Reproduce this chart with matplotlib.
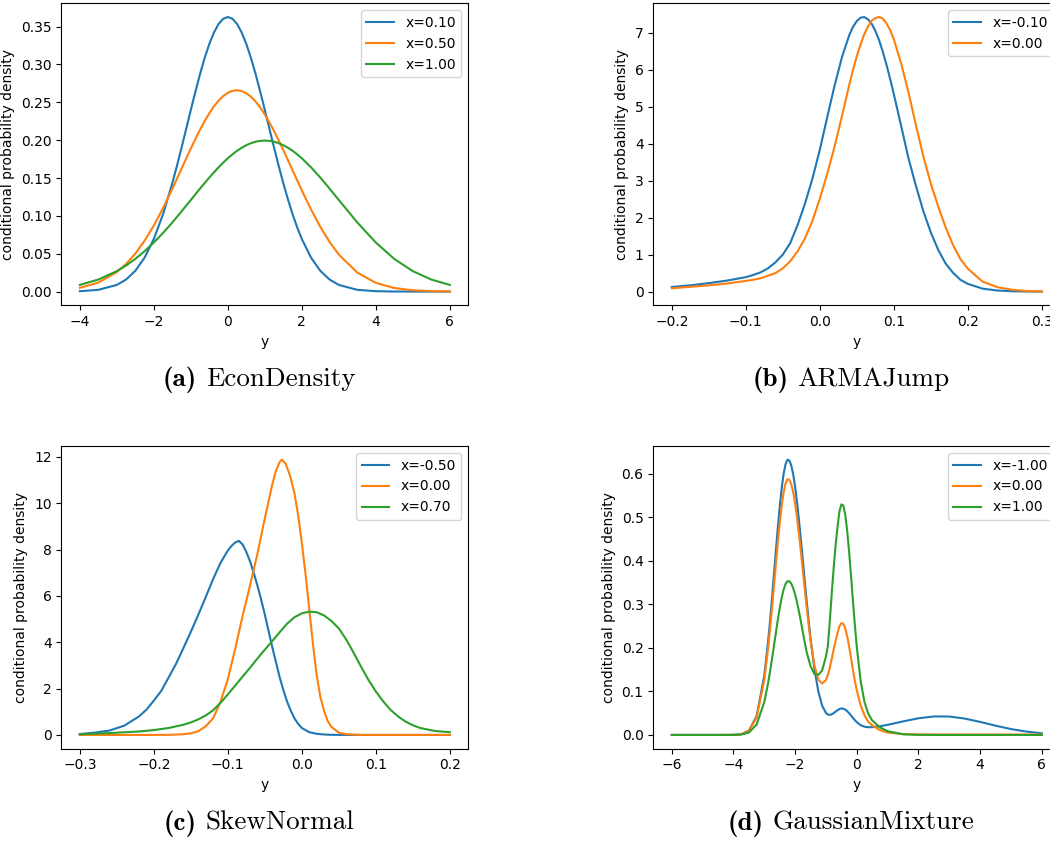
import matplotlib
matplotlib.use('Agg')
import matplotlib.pyplot as plt

# (a) EconDensity
econ_y = [-4, -3.5, -3, -2.75, -2.5, -2.25, -2, -1.75, -1.5, -1.375, -1.25, -1.125, -1, -0.875,
          -0.75, -0.625, -0.5, -0.375, -0.25, -0.125, 0, 0.125, 0.25, 0.375, 0.5, 0.625, 0.75,
          0.875, 1, 1.125, 1.25, 1.375, 1.5, 1.625, 1.75, 1.875, 2, 2.25, 2.5, 2.75, 3, 3.5, 4,
          4.5, 5, 5.5, 6]
econ_x010 = [0.0005, 0.0023, 0.0088, 0.0159, 0.0274, 0.0448, 0.0695, 0.1023, 0.1431, 0.1661,
             0.1902, 0.215, 0.2399, 0.2643, 0.2875, 0.3087, 0.3271, 0.3422, 0.3535, 0.3604,
             0.3627, 0.3604, 0.3535, 0.3422, 0.3271, 0.3087, 0.2875, 0.2643, 0.2399, 0.215,
             0.1902, 0.1661, 0.1431, 0.1218, 0.1023, 0.0848, 0.0695, 0.0448, 0.0274, 0.0159,
             0.0088, 0.0023, 0.0005, 0.0001, 0.0, 0.0, 0.0]
econ_x050 = [0.0049, 0.0119, 0.0258, 0.0365, 0.0502, 0.0671, 0.0872, 0.1103, 0.1357, 0.149,
             0.1624, 0.1758, 0.1890, 0.2018, 0.2139, 0.2253, 0.2355, 0.2446, 0.2522, 0.2582,
             0.2626, 0.2652, 0.266, 0.2649, 0.2620, 0.2574, 0.2511, 0.2432, 0.2339, 0.2235,
             0.2121, 0.1998, 0.1869, 0.1737, 0.1603, 0.1469, 0.1336, 0.1084, 0.0855, 0.0656,
             0.0489, 0.0251, 0.0115, 0.0047, 0.0017, 0.0006, 0.0002]
econ_x100 = [0.0088, 0.0159, 0.0270, 0.0344, 0.0431, 0.0533, 0.0648, 0.0775, 0.0913, 0.0986,
             0.1060, 0.1135, 0.1210, 0.1286, 0.1360, 0.1434, 0.1506, 0.1575, 0.1641, 0.1703,
             0.1761, 0.1813, 0.1860, 0.19, 0.1934, 0.196, 0.1980, 0.1991, 0.1995, 0.1991,
             0.1980, 0.196, 0.1934, 0.19, 0.1860, 0.1813, 0.1761, 0.1641, 0.1506, 0.136,
             0.1210, 0.0913, 0.0648, 0.0431, 0.0270, 0.0159, 0.0088]

# (b) ARMAJump
arma_y = [-0.2, -0.175, -0.15, -0.125, -0.1, -0.09, -0.08, -0.07, -0.06, -0.05, -0.04, -0.03,
          -0.02, -0.01, 0.0, 0.01, 0.02, 0.03, 0.04, 0.045, 0.05, 0.055, 0.06, 0.065, 0.07,
          0.075, 0.08, 0.085, 0.09, 0.095, 0.1, 0.11, 0.12, 0.13, 0.14, 0.15, 0.16, 0.17, 0.18,
          0.19, 0.2, 0.22, 0.24, 0.26, 0.28, 0.3]
arma_xm010 = [0.126, 0.17, 0.23, 0.30, 0.39, 0.45, 0.52, 0.63, 0.79, 1.0, 1.31, 1.80, 2.38, 3.05,
              3.83, 4.71, 5.57, 6.34, 6.94, 7.16, 7.31, 7.40, 7.42, 7.36, 7.24, 7.05, 6.80, 6.49,
              6.14, 5.75, 5.34, 4.47, 3.59, 2.85, 2.17, 1.60, 1.13, 0.76, 0.51, 0.32, 0.21, 0.08,
              0.03, 0.01, 0.003, 0.001]
arma_x000 = [0.09, 0.13, 0.17, 0.22, 0.29, 0.32, 0.36, 0.43, 0.50, 0.63, 0.82, 1.09, 1.44, 1.91,
             2.51, 3.18, 3.92, 4.75, 5.6, 6.0, 6.36, 6.67, 6.95, 7.16, 7.32, 7.39, 7.42, 7.38,
             7.25, 7.07, 6.82, 6.16, 5.37, 4.49, 3.65, 2.92, 2.3, 1.74, 1.26, 0.88, 0.62, 0.27,
             0.12, 0.05, 0.015, 0.005]

# (c) SkewNormal
skew_y_m050 = [-0.3, -0.28, -0.26, -0.24, -0.22, -0.21, -0.2, -0.19, -0.18, -0.17, -0.16, -0.15,
               -0.14, -0.13, -0.12, -0.11, -0.1, -0.095, -0.09, -0.085, -0.08, -0.075, -0.07,
               -0.065, -0.06, -0.055, -0.05, -0.045, -0.04, -0.035, -0.03, -0.025, -0.02, -0.015,
               -0.01, -0.005, 0.0, 0.01, 0.02, 0.03, 0.04, 0.06, 0.1, 0.2]
skew_xm050 = [0.04, 0.1, 0.19, 0.4, 0.8, 1.09, 1.48, 1.9, 2.48, 3.07, 3.75, 4.45, 5.18, 5.94, 6.72,
              7.42, 7.96, 8.16, 8.31, 8.38, 8.22, 7.9, 7.5, 7.0, 6.45, 5.85, 5.2, 4.5, 3.8, 3.15,
              2.5, 1.95, 1.45, 1.05, 0.72, 0.48, 0.3, 0.12, 0.05, 0.02, 0.005, 0.0, 0.0, 0.0]
skew_y_000 = [-0.3, -0.2, -0.18, -0.16, -0.15, -0.14, -0.13, -0.12, -0.11, -0.1, -0.09, -0.08,
              -0.07, -0.06, -0.05, -0.04, -0.035, -0.03, -0.027, -0.022, -0.016, -0.01, -0.005,
              0.0, 0.005, 0.01, 0.015, 0.02, 0.025, 0.03, 0.035, 0.04, 0.05, 0.06, 0.08, 0.2]
skew_x000 = [0.0, 0.0, 0.005, 0.03, 0.07, 0.16, 0.37, 0.71, 1.42, 2.4, 3.72, 5.14, 6.45, 7.82,
             9.35, 10.8, 11.4, 11.78, 11.88, 11.72, 11.2, 10.45, 9.5, 8.3, 6.95, 5.45, 3.95, 2.6,
             1.65, 1.05, 0.6, 0.35, 0.1, 0.03, 0.0, 0.0]
skew_y_070 = [-0.3, -0.26, -0.22, -0.2, -0.18, -0.16, -0.15, -0.14, -0.13, -0.12, -0.11, -0.1,
              -0.09, -0.08, -0.07, -0.06, -0.05, -0.04, -0.03, -0.02, -0.01, 0.0, 0.01, 0.02,
              0.03, 0.04, 0.05, 0.06, 0.07, 0.08, 0.09, 0.1, 0.11, 0.12, 0.13, 0.14, 0.15, 0.16,
              0.18, 0.2]
skew_x070 = [0.03, 0.08, 0.15, 0.21, 0.3, 0.44, 0.54, 0.67, 0.84, 1.06, 1.38, 1.75, 2.13, 2.52,
             2.9, 3.3, 3.68, 4.05, 4.43, 4.8, 5.08, 5.25, 5.32, 5.3, 5.16, 4.92, 4.6, 4.12, 3.55,
             2.95, 2.38, 1.88, 1.45, 1.08, 0.8, 0.58, 0.42, 0.3, 0.17, 0.12]

# (d) GaussianMixture
gmm_y = [-6, -5, -4.5, -4, -3.75, -3.5, -3.25, -3.0, -2.875, -2.8125, -2.75, -2.6875, -2.625,
         -2.5625, -2.5, -2.4375, -2.375, -2.3125, -2.25, -2.1875, -2.125, -2.0625, -2.0, -1.9375,
         -1.875, -1.8125, -1.75, -1.6875, -1.625, -1.5, -1.375, -1.25, -1.125, -1.0, -0.9375,
         -0.875, -0.8125, -0.75, -0.6875, -0.625, -0.5625, -0.5, -0.4375, -0.375, -0.3125,
         -0.25, -0.1875, -0.125, -0.0625, 0.0, 0.125, 0.25, 0.375, 0.5, 0.75, 1.0, 1.5, 2.0,
         2.5, 3.0, 3.5, 4.0, 4.5, 5.0, 5.5, 6.0]
gmm_xm100 = [0, 0, 0, 0.0002, 0.0016, 0.0098, 0.043, 0.1365, 0.2158, 0.2631, 0.3144, 0.3681,
             0.4222, 0.475, 0.5233, 0.5655, 0.5985, 0.621, 0.6317, 0.6301, 0.6186, 0.5982,
             0.5696, 0.5336, 0.4926, 0.4474, 0.4009, 0.3527, 0.3069, 0.2216, 0.1519, 0.1006,
             0.0674, 0.0504, 0.0467, 0.0461, 0.0473, 0.0502, 0.0536, 0.0566, 0.0596, 0.0607,
             0.0603, 0.0582, 0.0546, 0.0501, 0.0446, 0.0391, 0.0338, 0.0293, 0.0225, 0.0189,
             0.0177, 0.0179, 0.02, 0.0232, 0.0311, 0.0383, 0.0425, 0.0423, 0.0376, 0.0299,
             0.0213, 0.0135, 0.0077, 0.0038]
gmm_x000 = [0, 0, 0, 0.0002, 0.0015, 0.0091, 0.0398, 0.1266, 0.2001, 0.244, 0.2915, 0.3413,
            0.3916, 0.4409, 0.4858, 0.5252, 0.5559, 0.5771, 0.5869, 0.5859, 0.5755, 0.557,
            0.5308, 0.4982, 0.4605, 0.4197, 0.3769, 0.3341, 0.2923, 0.2162, 0.16, 0.127, 0.118,
            0.126, 0.138, 0.154, 0.175, 0.196, 0.216, 0.234, 0.2497, 0.2567, 0.2552, 0.2448,
            0.227, 0.2035, 0.1764, 0.15, 0.124, 0.102, 0.068, 0.045, 0.03, 0.022, 0.011, 0.0055,
            0.002, 0.0012, 0.001, 0.001, 0.001, 0.001, 0.001, 0.001, 0.001, 0.001]
gmm_x100 = [0, 0, 0, 0.0001, 0.0009, 0.0054, 0.0238, 0.0756, 0.1195, 0.146, 0.1745, 0.2043,
            0.2346, 0.2641, 0.291, 0.3148, 0.3335, 0.3464, 0.3529, 0.3527, 0.3473, 0.3369,
            0.3223, 0.3039, 0.2828, 0.26, 0.236, 0.2123, 0.19, 0.158, 0.14, 0.138, 0.148, 0.18,
            0.205, 0.262, 0.325, 0.383, 0.436, 0.4774, 0.5135, 0.5293, 0.5269, 0.506, 0.4694,
            0.4209, 0.3652, 0.3074, 0.2519, 0.2019, 0.124, 0.0753, 0.0482, 0.0333, 0.0174,
            0.0086, 0.0015, 0.0002, 0, 0, 0, 0, 0, 0, 0, 0]

captions = [('(a)', 'EconDensity'), ('(b)', 'ARMAJump'),
            ('(c)', 'SkewNormal'), ('(d)', 'GaussianMixture')]


def draw_panel(ax, curves):
    for ys, dens, label in curves:
        ax.plot(ys, dens, label=label)
    ax.set_xlabel('y')
    ax.set_ylabel('conditional probability density')
    ax.legend(loc='upper right')


def put_caption(fig, cx, base_y, tag, name, size=19.5):
    # bold tag and roman name set side by side, centred as one line
    t1 = fig.text(0, base_y, tag, fontfamily='cmb10', fontsize=size, va='baseline')
    t2 = fig.text(0, base_y, name, fontfamily='cmr10', fontsize=size, va='baseline')
    fig.canvas.draw()
    r = fig.canvas.get_renderer()
    w1 = t1.get_window_extent(r).width
    w2 = t2.get_window_extent(r).width
    gap = 0.33 * size * fig.dpi / 72.0
    W = fig.bbox.width
    left = cx * W - (w1 + gap + w2) / 2.0
    t1.set_x(left / W)
    t2.set_x((left + w1 + gap) / W)


fig = plt.figure(figsize=(10.5, 8.42), dpi=100)

ax_a = fig.add_axes([0.0584, 0.6374, 0.3876, 0.3587])
draw_panel(ax_a, [(econ_y, econ_x010, 'x=0.10'),
                  (econ_y, econ_x050, 'x=0.50'),
                  (econ_y, econ_x100, 'x=1.00')])

ax_b = fig.add_axes([0.6222, 0.6374, 0.3876, 0.3587])
draw_panel(ax_b, [(arma_y, arma_xm010, 'x=-0.10'),
                  (arma_y, arma_x000, 'x=0.00')])

ax_c = fig.add_axes([0.0584, 0.1108, 0.3876, 0.3595])
draw_panel(ax_c, [(skew_y_m050, skew_xm050, 'x=-0.50'),
                  (skew_y_000, skew_x000, 'x=0.00'),
                  (skew_y_070, skew_x070, 'x=0.70')])

ax_d = fig.add_axes([0.6222, 0.1108, 0.3876, 0.3595])
draw_panel(ax_d, [(gmm_y, gmm_xm100, 'x=-1.00'),
                  (gmm_y, gmm_x000, 'x=0.00'),
                  (gmm_y, gmm_x100, 'x=1.00')])

put_caption(fig, 0.2467, 0.5416, *captions[0])
put_caption(fig, 0.8105, 0.5416, *captions[1])
put_caption(fig, 0.2467, 0.0143, *captions[2])
put_caption(fig, 0.8105, 0.0143, *captions[3])

plt.savefig('out.png', dpi=100, facecolor='white')
